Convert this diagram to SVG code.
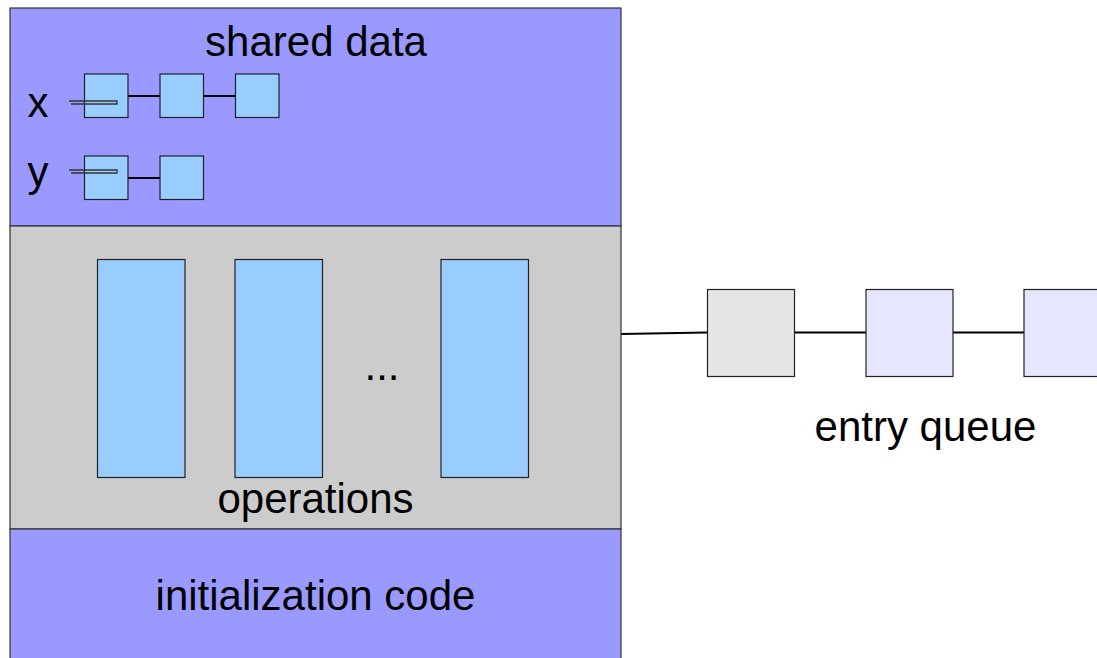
<svg xmlns="http://www.w3.org/2000/svg" width="1097" height="658" viewBox="0 0 1097 658">
<style>
.sec{stroke:#333;stroke-width:1.2}
.cell{fill:#99ccff;stroke:#222;stroke-width:1.2}
.q{stroke:#222;stroke-width:1.2}
.ln{stroke:#000;stroke-width:2;fill:none}
.ptr{stroke:#333;stroke-width:1.3;fill:none}
.t{font-family:"Liberation Sans",Arial,sans-serif;font-size:42px;fill:#000}
</style>
<rect width="1097" height="658" fill="#fff"/>
<g id="connectors">
<line class="ln" x1="621" y1="334" x2="707" y2="332.5"/>
<line class="ln" x1="795" y1="332.5" x2="866" y2="332.5"/>
<line class="ln" x1="953" y1="332.5" x2="1024" y2="332.5"/>
</g>
<g id="shared-data">
<rect class="sec" x="10" y="8" width="611" height="218" fill="#9999ff"/>
<text class="t" x="316" y="56" text-anchor="middle">shared data</text>
<text class="t" x="38" y="117" text-anchor="middle">x</text>
<text class="t" x="38" y="186" text-anchor="middle">y</text>
</g>
<g id="x-list">
<rect class="cell" x="84.5" y="74" width="43.5" height="43.5"/>
<rect class="cell" x="160" y="74" width="43.5" height="43.5"/>
<rect class="cell" x="235.5" y="74" width="43.5" height="43.5"/>
<line class="ln" x1="128" y1="96" x2="160" y2="96"/>
<line class="ln" x1="203.5" y1="96" x2="235.5" y2="96"/>
<path class="ptr" d="M69,101 H117 V104 H71"/>
</g>
<g id="y-list">
<rect class="cell" x="84.5" y="156" width="43.5" height="43.5"/>
<rect class="cell" x="160" y="156" width="43.5" height="43.5"/>
<line class="ln" x1="128" y1="178" x2="160" y2="178"/>
<path class="ptr" d="M69,170 H117 V173 H71"/>
</g>
<g id="operations">
<rect class="sec" x="10" y="226" width="611" height="303" fill="#cccccc"/>
<rect class="cell" x="97.5" y="259.5" width="87.5" height="218"/>
<rect class="cell" x="235" y="259.5" width="87.5" height="218"/>
<rect class="cell" x="441" y="259.5" width="87.5" height="218"/>
<text class="t" x="382" y="380" text-anchor="middle">...</text>
<text class="t" x="315.5" y="513" text-anchor="middle">operations</text>
</g>
<g id="initialization">
<rect class="sec" x="10" y="529" width="611" height="140" fill="#9999ff"/>
<text class="t" x="315.5" y="610" text-anchor="middle">initialization code</text>
</g>
<g id="entry-queue">
<rect class="q" x="707.5" y="289.5" width="87" height="87" fill="#e6e6e6"/>
<rect class="q" x="866" y="289.5" width="87" height="87" fill="#e6e6ff"/>
<rect class="q" x="1024" y="289.5" width="87" height="87" fill="#e6e6ff"/>
<text class="t" x="925.5" y="441" text-anchor="middle">entry queue</text>
</g>
</svg>
